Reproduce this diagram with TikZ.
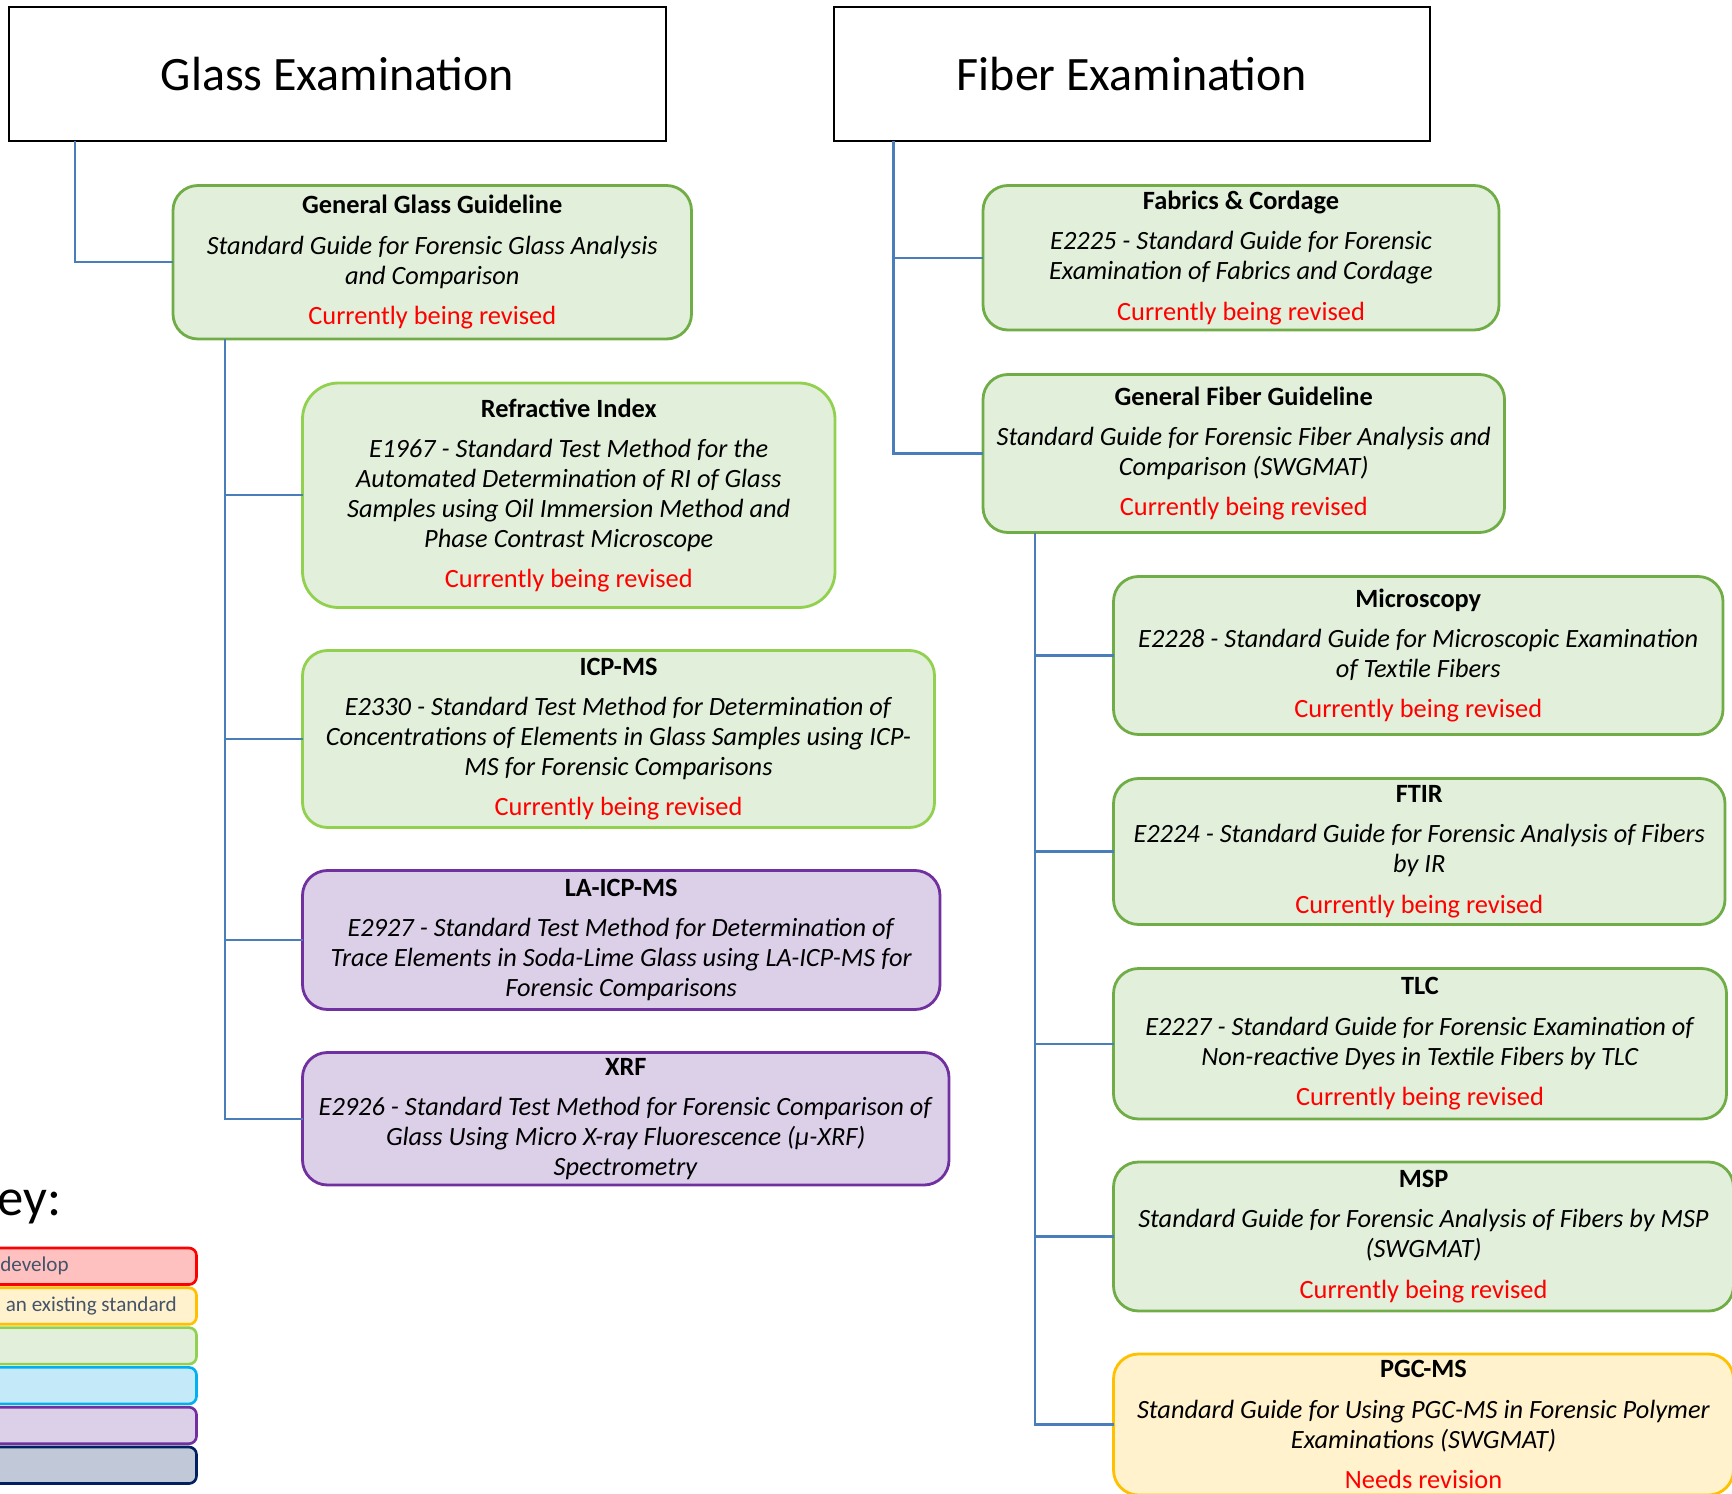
\documentclass[tikz,border=0pt]{standalone}
\usepackage{fontspec}
\setmainfont{Carlito}
\usetikzlibrary{positioning}

\definecolor{linkblue}{HTML}{4A7EBB}
\definecolor{greenfill}{HTML}{E2EFDA}
\definecolor{greendark}{HTML}{70AD47}
\definecolor{greenlight}{HTML}{92D050}
\definecolor{purplefill}{HTML}{DCCFE8}
\definecolor{purpleline}{HTML}{7030A0}
\definecolor{yellowfill}{HTML}{FFF2CC}
\definecolor{yellowline}{HTML}{FFC000}
\definecolor{redfill}{HTML}{FFC0C0}
\definecolor{bluefill}{HTML}{C4EAF9}
\definecolor{blueline}{HTML}{00B0F0}
\definecolor{navyfill}{HTML}{C1C8D7}
\definecolor{navyline}{HTML}{002060}
\definecolor{keygrey}{HTML}{44546A}

\begin{document}
\begin{tikzpicture}[
  headbox/.style={rectangle, draw, line width=1.5pt, outer sep=0pt, minimum height=2.68cm, font=\fontsize{27.3}{32}\selectfont},
  docbox/.style={rectangle, rounded corners=0.5cm, line width=1.6pt, outer sep=0pt, align=center, inner sep=0.1cm, font=\fontsize{15}{17}\selectfont},
  greenbox/.style={docbox, fill=greenfill, draw=greendark},
  limebox/.style={docbox, fill=greenfill, draw=greenlight},
  purplebox/.style={docbox, fill=purplefill, draw=purpleline},
  yellowbox/.style={docbox, fill=yellowfill, draw=yellowline},
  keybox/.style={rectangle, rounded corners=0.15cm, line width=1.5pt, outer sep=0pt, minimum width=5cm, minimum height=0.73cm, anchor=north east},
  keytext/.style={font=\fontsize{12}{14}\selectfont, text=keygrey, inner sep=0pt, anchor=west},
  link/.style={draw=linkblue, line width=1.2pt}
]
\useasboundingbox (0,0) rectangle (34.64,-29.88);
\clip (0,0) rectangle (34.64,-29.88);

% Glass column
\node[headbox, minimum width=13.14cm] (glass) at (6.75,-1.48) {Glass Examination};
\node[greenbox, minimum width=10.37cm, minimum height=3.07cm, below right=0.89cm and 3.28cm of glass.south west] (genglass)
  {\textbf{General Glass Guideline}\\[6pt]
   \textit{Standard Guide for Forensic Glass Analysis}\\ \textit{and Comparison}\\[6pt]
   \textcolor{red}{Currently being revised}};
\node[limebox, rounded corners=0.72cm, minimum width=10.65cm, minimum height=4.49cm, below right=0.88cm and 2.59cm of genglass.south west] (refindex)
  {\textbf{Refractive Index}\\[6pt]
   \textit{E1967 - Standard Test Method for the}\\ \textit{Automated Determination of RI of Glass}\\
   \textit{Samples using Oil Immersion Method and}\\ \textit{Phase Contrast Microscope}\\[6pt]
   \textcolor{red}{Currently being revised}};
\node[limebox, minimum width=12.64cm, minimum height=3.54cm, below right=0.86cm and 0cm of refindex.south west] (icpms)
  {\textbf{ICP-MS}\\[6pt]
   \textit{E2330 - Standard Test Method for Determination of}\\ \textit{Concentrations of Elements in Glass Samples using ICP-}\\
   \textit{MS for Forensic Comparisons}\\[6pt]
   \textcolor{red}{Currently being revised}};
\node[purplebox, minimum width=12.75cm, minimum height=2.78cm, below right=0.86cm and 0cm of icpms.south west] (laicpms)
  {\textbf{LA-ICP-MS}\\[6pt]
   \textit{E2927 - Standard Test Method for Determination of}\\ \textit{Trace Elements in Soda-Lime Glass using LA-ICP-MS for}\\
   \textit{Forensic Comparisons}};
\node[purplebox, minimum width=12.93cm, minimum height=2.65cm, below right=0.86cm and 0cm of laicpms.south west] (xrf)
  {\textbf{XRF}\\[6pt]
   \textit{E2926 - Standard Test Method for Forensic Comparison of}\\ \textit{Glass Using Micro X-ray Fluorescence (µ-XRF)}\\
   \textit{Spectrometry}};

% Fiber column
\node[headbox, minimum width=11.92cm] (fiber) at (22.64,-1.48) {Fiber Examination};
\node[greenbox, minimum width=10.32cm, minimum height=2.89cm, below right=0.89cm and 2.98cm of fiber.south west] (fabrics)
  {\textbf{Fabrics \& Cordage}\\[6pt]
   \textit{E2225 - Standard Guide for Forensic}\\ \textit{Examination of Fabrics and Cordage}\\[6pt]
   \textcolor{red}{Currently being revised}};
\node[greenbox, minimum width=10.43cm, minimum height=3.16cm, below right=0.89cm and 0cm of fabrics.south west] (genfiber)
  {\textbf{General Fiber Guideline}\\[6pt]
   \textit{Standard Guide for Forensic Fiber Analysis and}\\ \textit{Comparison (SWGMAT)}\\[6pt]
   \textcolor{red}{Currently being revised}};
\node[greenbox, minimum width=12.19cm, minimum height=3.16cm, below right=0.88cm and 2.61cm of genfiber.south west] (micro)
  {\textbf{Microscopy}\\[6pt]
   \textit{E2228 - Standard Guide for Microscopic Examination}\\ \textit{of Textile Fibers}\\[6pt]
   \textcolor{red}{Currently being revised}};
\node[greenbox, minimum width=12.23cm, minimum height=2.92cm, below right=0.88cm and 0cm of micro.south west] (ftir)
  {\textbf{FTIR}\\[6pt]
   \textit{E2224 - Standard Guide for Forensic Analysis of Fibers}\\ \textit{by IR}\\[6pt]
   \textcolor{red}{Currently being revised}};
\node[greenbox, minimum width=12.26cm, minimum height=3.01cm, below right=0.88cm and 0cm of ftir.south west] (tlc)
  {\textbf{TLC}\\[6pt]
   \textit{E2227 - Standard Guide for Forensic Examination of}\\ \textit{Non-reactive Dyes in Textile Fibers by TLC}\\[6pt]
   \textcolor{red}{Currently being revised}};
\node[greenbox, minimum width=12.40cm, minimum height=2.98cm, below right=0.86cm and 0cm of tlc.south west] (msp)
  {\textbf{MSP}\\[6pt]
   \textit{Standard Guide for Forensic Analysis of Fibers by MSP}\\ \textit{(SWGMAT)}\\[6pt]
   \textcolor{red}{Currently being revised}};
\node[yellowbox, minimum width=12.40cm, minimum height=2.82cm, below right=0.86cm and 0cm of msp.south west] (pgcms)
  {\textbf{PGC-MS}\\[6pt]
   \textit{Standard Guide for Using PGC-MS in Forensic Polymer}\\ \textit{Examinations (SWGMAT)}\\[6pt]
   \textcolor{red}{Needs revision}};

% Connectors
\coordinate (gtrunk) at ([xshift=1.04cm]genglass.south west);
\coordinate (ftrunk) at ([xshift=1.04cm]genfiber.south west);
\draw[link] ([xshift=1.32cm]glass.south west) |- (genglass.west);
\draw[link] (gtrunk) |- (xrf.west);
\foreach \n in {refindex,icpms,laicpms}
  \draw[link] (\n.west) -- (\n.west -| gtrunk);
\draw[link] ([xshift=1.19cm]fiber.south west) |- (genfiber.west);
\draw[link] (fabrics.west) -- ++(-1.79cm,0);
\draw[link] (ftrunk) |- (pgcms.west);
\foreach \n in {micro,ftir,tlc,msp}
  \draw[link] (\n.west) -- (\n.west -| ftrunk);

% Key
\node[anchor=base east, inner sep=0pt, font=\fontsize{30}{34}\selectfont] (keytitle) at (1.24,-24.30) {Key:};
\node[keybox, fill=redfill, draw=red] (keyred) at (3.93,-24.96) {};
\node[keybox, fill=yellowfill, draw=yellowline, below=0.066cm of keyred.south east, anchor=north east] (keyyellow) {};
\node[keybox, fill=greenfill, draw=greenlight, below=0.066cm of keyyellow.south east, anchor=north east] (keygreen) {};
\node[keybox, fill=bluefill, draw=blueline, below=0.066cm of keygreen.south east, anchor=north east] (keyblue) {};
\node[keybox, fill=purplefill, draw=purpleline, below=0.066cm of keyblue.south east, anchor=north east] (keypurple) {};
\node[keybox, fill=navyfill, draw=navyline, below=0.066cm of keypurple.south east, anchor=north east] (keynavy) {};
\node[keytext] (keyredtext) at (keyred.west -| 0,0) {develop};
\node[keytext] (keyyellowtext) at ([xshift=0.11cm]keyyellow.west -| 0,0) {an existing standard};
\end{tikzpicture}
\end{document}
